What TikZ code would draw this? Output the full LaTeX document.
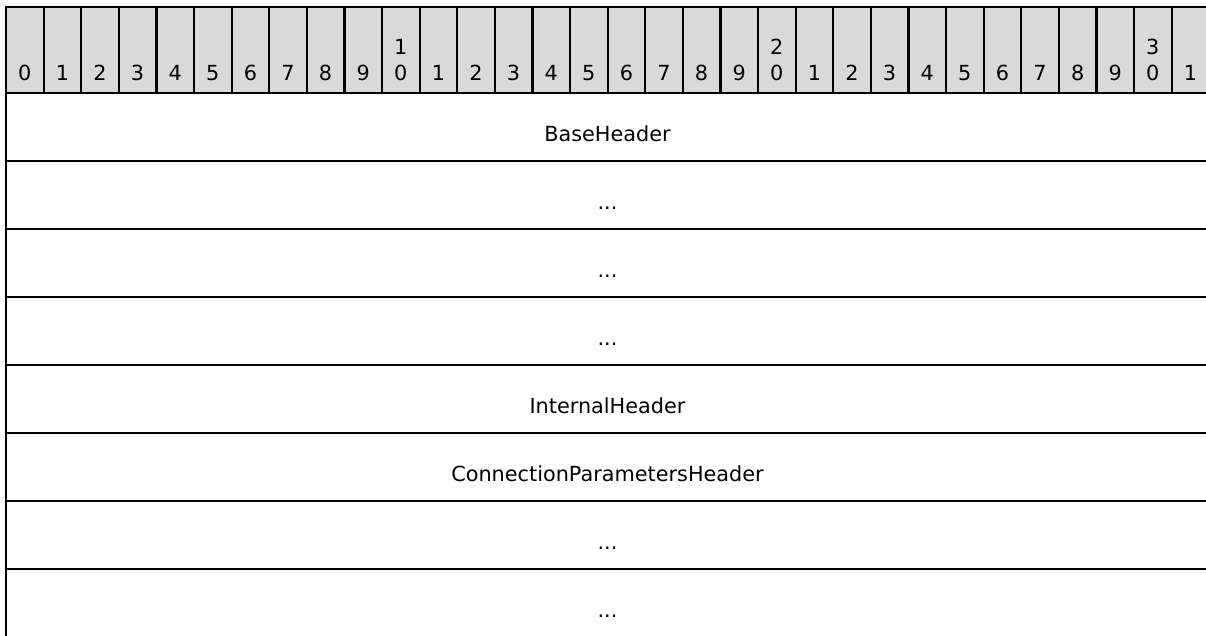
\documentclass[tikz,border=0pt]{standalone}
\usepackage{fontspec}
\setmainfont{DejaVu Sans}
\usepackage{tikz}
\usetikzlibrary{positioning}
\usepackage{xcolor}
\definecolor{bitgray}{RGB}{217,217,217}
\tikzstyle{bitcell} = [draw, fill=bitgray, line width=2.2pt, outer sep=0pt, inner sep=0pt, minimum width=37.6pt, minimum height=86pt]
\tikzstyle{bitnum} = [inner sep=0pt, align=center, font=\fontsize{20.8}{26}\selectfont]
\tikzstyle{field} = [draw, line width=2.2pt, outer sep=0pt, inner sep=0pt, minimum width=1203pt, minimum height=68pt, text height=28pt, text depth=0pt, font=\fontsize{20.8}{25}\selectfont]

\begin{document}
\begin{tikzpicture}[x=1pt,y=-1pt]
\useasboundingbox (0,0) rectangle (1206,635);
\clip (0,0) rectangle (1206,635);

% Bit ruler
\node[bitcell, anchor=north west] (c0) at (6,7) {};
\foreach \i [remember=\i as \p (initially 0)] in {1,...,31}
  \node[bitcell, right=0pt of c\p] (c\i) {};
\foreach \i in {0,...,31} {
  \pgfmathtruncatemacro{\hi}{\i/10}
  \pgfmathtruncatemacro{\lo}{mod(\i,10)}
  \ifnum\i<10 \edef\bittext{\i}\else
    \ifnum\lo=0 \edef\bittext{\hi\noexpand\\\lo}\else \edef\bittext{\lo}\fi
  \fi
  \node[bitnum, anchor=south] (n\i) at ([yshift=12pt]c\i.south) {\bittext};
}

% Fields
\node[field, below right=0pt and 0pt of c0.south west] (r1) {BaseHeader};
\node[field, below=0pt of r1] (r2) {...};
\node[field, below=0pt of r2] (r3) {...};
\node[field, below=0pt of r3] (r4) {...};
\node[field, below=0pt of r4] (r5) {InternalHeader};
\node[field, below=0pt of r5] (r6) {ConnectionParametersHeader};
\node[field, below=0pt of r6] (r7) {...};
\node[field, below=0pt of r7] (r8) {...};
\end{tikzpicture}
\end{document}
